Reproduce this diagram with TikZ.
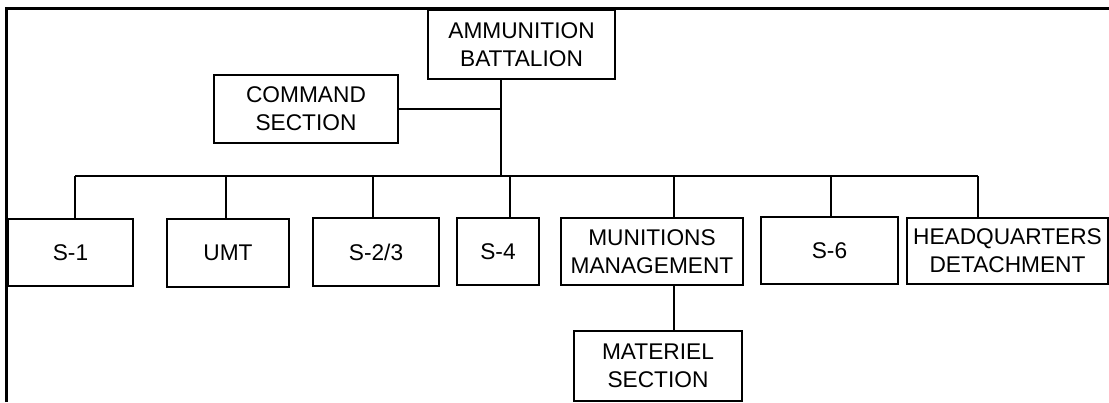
\documentclass[tikz,border=0pt]{standalone}
\usepackage{fontspec}
\setmainfont{Liberation Sans}
\begin{document}
\begin{tikzpicture}[x=1pt,y=-1pt,
  orgbox/.style={draw, line width=1.8pt, align=center, inner sep=0pt,
    font=\fontsize{22.7}{28}\selectfont},
  link/.style={line width=1.2pt}]
\useasboundingbox (0,0) rectangle (1109,402);
% frame
\draw[line width=3pt] (6.5,402) -- (6.5,8.5) -- (1109,8.5);
% boxes
\node[orgbox, minimum width=187pt, minimum height=69pt] (bat) at (521.5,44.5) {AMMUNITION\\BATTALION};
\node[orgbox, minimum width=184pt, minimum height=68pt] (cmd) at (306,109) {COMMAND\\SECTION};
\node[orgbox, minimum width=125pt, minimum height=67pt] (s1) at (70.5,252.5) {S-1};
\node[orgbox, minimum width=122pt, minimum height=68pt] (umt) at (228,253) {UMT};
\node[orgbox, minimum width=126pt, minimum height=68pt] (s23) at (376,252) {S-2/3};
\node[orgbox, minimum width=82pt, minimum height=67pt] (s4) at (498,251.5) {S-4};
\node[orgbox, minimum width=182pt, minimum height=67pt] (mm) at (652,251.5) {MUNITIONS\\MANAGEMENT};
\node[orgbox, minimum width=137pt, minimum height=67pt] (s6) at (829.5,250.5) {S-6};
\node[orgbox, minimum width=201pt, minimum height=66pt] (hq) at (1007.5,251) {HEADQUARTERS\\DETACHMENT};
\node[orgbox, minimum width=168pt, minimum height=70pt] (mat) at (658,366) {MATERIEL\\SECTION};
% connector coordinates
\coordinate (trunk) at (501,176);
\coordinate (d1) at (75,176);
\coordinate (d2) at (226,176);
\coordinate (d3) at (373,176);
\coordinate (d4) at (510,176);
\coordinate (d5) at (674,176);
\coordinate (d6) at (831,176);
\coordinate (d7) at (978,176);
% connectors
\draw[link] (bat.south -| trunk) -- (trunk);
\draw[link] (cmd.east) -- (cmd.east -| trunk);
\draw[link] (d1) -- (d7);
\draw[link] (d1) -- (d1 |- s1.north);
\draw[link] (d2) -- (d2 |- umt.north);
\draw[link] (d3) -- (d3 |- s23.north);
\draw[link] (d4) -- (d4 |- s4.north);
\draw[link] (d5) -- (d5 |- mm.north);
\draw[link] (d6) -- (d6 |- s6.north);
\draw[link] (d7) -- (d7 |- hq.north);
\draw[link] (mm.south -| d5) -- (mat.north -| d5);
\end{tikzpicture}
\end{document}
